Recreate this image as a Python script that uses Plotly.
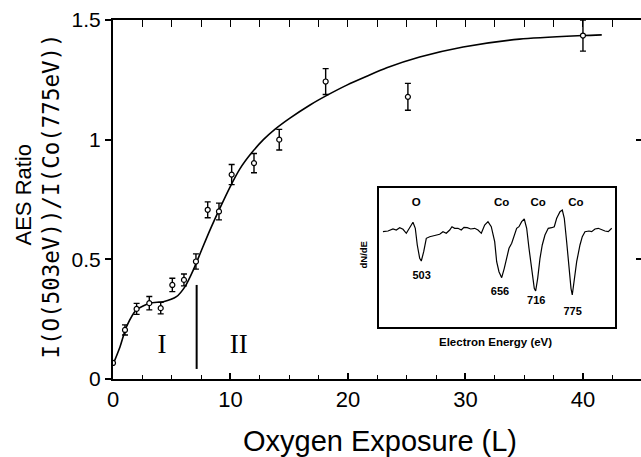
import plotly.graph_objects as go

# ---- main data ----
exposure = [0, 1.02, 2.01, 3.09, 4.06, 5.05, 6.04, 7.06, 8.06, 9.02, 10.1, 12.0, 14.15, 18.1, 25.1, 40.0]
aes_ratio = [0.067, 0.205, 0.293, 0.317, 0.296, 0.393, 0.414, 0.491, 0.707, 0.70, 0.854, 0.902, 1.0, 1.243, 1.179, 1.435]
ratio_err = [0.0, 0.021, 0.023, 0.028, 0.024, 0.028, 0.025, 0.032, 0.033, 0.035, 0.042, 0.04, 0.043, 0.054, 0.056, 0.065]

fit_x = [0.0, 0.6, 1.16, 2.0, 3.15, 4.28, 5.4, 6.13, 6.84, 7.55, 8.26, 9.1, 9.96, 10.8, 11.8,
         12.8, 13.8, 15.06, 16.77, 18.2, 19.9, 21.6, 23.3, 26.1, 29.8, 34.6, 40.0, 41.6]
fit_y = [0.06, 0.135, 0.22, 0.289, 0.317, 0.323, 0.344, 0.386, 0.456, 0.54, 0.623, 0.714, 0.802, 0.878, 0.945,
         1.0, 1.044, 1.09, 1.145, 1.185, 1.228, 1.265, 1.30, 1.345, 1.387, 1.42, 1.435, 1.438]

divider_x = [7.12, 7.12]
divider_y = [0.042, 0.393]
region_labels = ["I", "II"]
region_x = [4.17, 10.7]
region_y = [0.135, 0.135]

top_ticks = [0, 2.5, 5, 7.5, 10, 12.5, 15, 17.5, 20, 22.5, 25, 27.5, 30, 32.5, 35, 37.5, 40, 42.5]
left_ticks = [0, 0.5, 1, 1.5]

# ---- inset spectrum (electron energy eV, dN/dE arb.) ----
energy = [436.0, 445.1, 454.2, 460.2, 466.4, 472.4, 478.4, 484.5, 490.5, 494.7, 498.3, 502.7, 505.6, 510.0,
          514.7, 520.9, 526.8, 532.8, 539.0, 545.0, 551.0, 557.2, 561.3, 566.2, 572.2, 578.2, 583.1, 589.1,
          595.3, 602.6, 608.6, 614.6, 620.7, 626.7, 632.7, 638.9, 642.5, 646.7, 650.3, 651.6, 656.3, 660.7,
          664.9, 669.8, 674.5, 678.8, 683.0, 687.9, 692.6, 697.0, 701.2, 706.1, 710.8, 713.3, 717.0, 721.2,
          725.3, 730.2, 736.2, 742.4, 747.1, 751.5, 757.5, 761.7, 765.3, 769.6, 773.8, 777.5, 779.8, 783.4,
          787.8, 793.8, 798.0, 802.9, 810.1, 815.0, 821.0, 827.0, 833.2, 839.2, 845.2, 851.4]
dnde = [-0.17, -0.1, 0.1, 0.0, 0.23, 0.07, -0.33, 0.17, 0.77, 0.17, -1.5, -2.83, -3.1, -2.17,
        -0.83, -0.67, -0.57, -0.5, -0.43, -0.17, -0.33, 0.0, 0.33, 0.17, 0.17, 0.0, 0.27, 0.23,
        0.1, 0.17, 0.0, -0.33, 0.5, 0.83, 0.33, -1.17, -3.17, -4.17, -4.67, -4.77, -3.83, -2.67,
        -1.83, -1.33, -0.5, 0.17, 0.33, 0.83, 1.1, 0.17, -1.83, -4.17, -5.83, -6.1, -4.83, -2.83,
        -1.5, -0.5, 0.17, 0.23, 0.33, 1.17, 1.83, 2.0, 1.17, -1.17, -3.83, -5.83, -6.5, -5.17,
        -3.17, -1.5, -0.67, -0.17, -0.1, -0.17, 0.1, 0.17, 0.0, -0.1, -0.17, 0.17]
element_labels = ["O", "Co", "Co", "Co"]
element_x = [496.5, 651.6, 717.9, 786.5]
element_y = [2.73, 2.73, 2.73, 2.73]
peak_labels = ["503", "656", "716", "775"]
peak_x = [506.3, 648.5, 714.4, 780.5]
peak_y = [-4.6, -6.25, -7.13, -8.23]

SANS = "Liberation Sans, Arial, sans-serif"

fig = go.Figure()

# host trace for the top / right tick axes (added first so that subplot exists)
fig.add_trace(go.Scatter(x=exposure, y=aes_ratio, mode="lines", line=dict(width=0), opacity=0,
                         xaxis="x3", yaxis="y3", showlegend=False, hoverinfo="skip"))
fig.add_trace(go.Scatter(x=fit_x, y=fit_y, mode="lines", line=dict(color="black", width=1.6, shape="spline", smoothing=0.7),
                         xaxis="x", yaxis="y", showlegend=False, hoverinfo="skip"))
fig.add_trace(go.Scatter(x=exposure, y=aes_ratio, mode="markers",
                         marker=dict(symbol="circle", size=5, color="white", line=dict(color="black", width=1.2)),
                         error_y=dict(type="data", array=ratio_err, color="black", thickness=1.4, width=3),
                         xaxis="x", yaxis="y", showlegend=False))
fig.add_trace(go.Scatter(x=divider_x, y=divider_y, mode="lines", line=dict(color="black", width=2),
                         xaxis="x", yaxis="y", showlegend=False))
fig.add_trace(go.Scatter(x=region_x, y=region_y, mode="text", text=region_labels,
                         textfont=dict(family="Liberation Serif, Times New Roman, serif", size=27, color="black"),
                         xaxis="x", yaxis="y", showlegend=False))

# inset
fig.add_trace(go.Scatter(x=energy, y=dnde, mode="lines", line=dict(color="black", width=1.2),
                         xaxis="x2", yaxis="y2", showlegend=False))
fig.add_trace(go.Scatter(x=element_x, y=element_y, mode="text", text=element_labels,
                         textfont=dict(family=SANS, size=11.5, color="black", weight="bold"),
                         xaxis="x2", yaxis="y2", showlegend=False))
fig.add_trace(go.Scatter(x=peak_x, y=peak_y, mode="text", text=peak_labels,
                         textfont=dict(family=SANS, size=11, color="black", weight="bold"),
                         xaxis="x2", yaxis="y2", showlegend=False))

W, H = 641, 457
L, R, T, B = 113, 0, 20, 78
pw, ph = W - L - R, H - T - B

def px_x(p):
    return (p - L) / pw

def px_y(p):
    return (H - B - p) / ph

XR = [0, 44.94]
YR = [0, 1.5]

fig.update_layout(
    width=W, height=H, autosize=False,
    margin=dict(l=L, r=R, t=T, b=B, pad=0),
    paper_bgcolor="white", plot_bgcolor="white",
    font=dict(family=SANS, color="black"),
    xaxis=dict(range=XR, showline=True, linecolor="black", linewidth=2, mirror=True,
               ticks="inside", ticklen=6, tickwidth=1.5, tickcolor="black", tickvals=[0, 10, 20, 30, 40],
               minor=dict(dtick=2.5, ticks="inside", ticklen=4, tickwidth=1.2, tickcolor="black"),
               tickfont=dict(family=SANS, size=22), showgrid=False, zeroline=False),
    yaxis=dict(range=YR, showline=True, linecolor="black", linewidth=2, mirror=False,
               ticks="outside", ticklen=6, tickwidth=1.5, tickcolor="black", tickvals=left_ticks,
               tickfont=dict(family=SANS, size=21), showgrid=False, zeroline=False),
    xaxis3=dict(range=XR, overlaying="x", side="top", anchor="y3", ticks="inside", ticklen=7,
                tickwidth=1.3, tickcolor="black", tickmode="array", tickvals=top_ticks, showticklabels=False,
                showgrid=False, zeroline=False),
    yaxis3=dict(range=YR, overlaying="y", side="right", anchor="x3", ticks="inside", ticklen=5,
                tickwidth=1.5, tickcolor="black", tickvals=left_ticks, showticklabels=False,
                showgrid=False, zeroline=False),
    xaxis2=dict(domain=[px_x(379), px_x(615)], anchor="y2", range=[428.8, 857.4], showline=True,
                linecolor="black", linewidth=2, mirror=True, ticks="", showticklabels=False,
                showgrid=False, zeroline=False),
    yaxis2=dict(domain=[px_y(327), px_y(188)], anchor="x2", range=[-9.7, 4.2], showline=True,
                linecolor="black", linewidth=2, mirror=True, ticks="", showticklabels=False,
                showgrid=False, zeroline=False),
    annotations=[
        dict(text="Oxygen Exposure (L)", xref="paper", yref="paper", x=px_x(380), y=px_y(441),
             xanchor="center", yanchor="middle", showarrow=False, font=dict(family=SANS, size=29)),
        dict(text="AES Ratio", xref="paper", yref="paper", x=px_x(22.5), y=px_y(195), textangle=-90,
             xanchor="center", yanchor="middle", showarrow=False, font=dict(family=SANS, size=22)),
        dict(text="I(O(503eV))/I(Co(775eV))", xref="paper", yref="paper", x=px_x(50), y=px_y(196.5),
             textangle=-90, xanchor="center", yanchor="middle", showarrow=False,
             font=dict(family="DejaVu Sans Mono, monospace", size=22.5)),
        dict(text="Electron Energy (eV)", xref="paper", yref="paper", x=px_x(495.6), y=px_y(342),
             xanchor="center", yanchor="middle", showarrow=False,
             font=dict(family=SANS, size=11.5, weight="bold")),
        dict(text="dN/dE", xref="paper", yref="paper", x=px_x(362.5), y=px_y(255), textangle=-90,
             xanchor="center", yanchor="middle", showarrow=False,
             font=dict(family=SANS, size=9.5, weight="bold")),
    ],
)

fig.write_html("out.html")
